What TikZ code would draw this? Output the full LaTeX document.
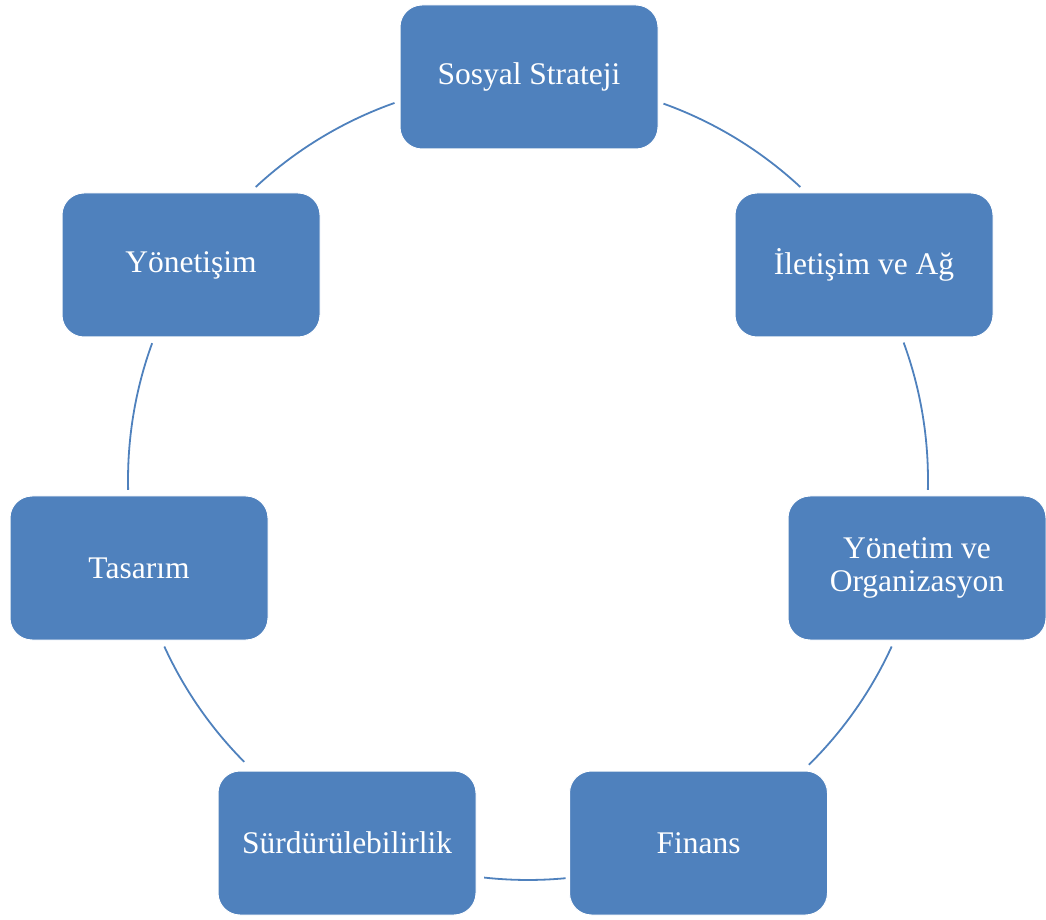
\documentclass[tikz,border=0pt]{standalone}
\usepackage{fontspec}
\setmainfont{Liberation Serif}
\definecolor{boxblue}{HTML}{4F81BD}
\begin{document}
\begin{tikzpicture}[x=1pt,y=1pt,
  cyclebox/.style={rectangle, rounded corners=22pt, fill=boxblue, draw=white, line width=1pt,
    minimum width=258pt, minimum height=144pt, text=white, align=center,
    font=\fontsize{31.5}{33}\selectfont, inner sep=0pt},
  cyclearc/.style={draw=boxblue, line width=1.8pt}]
\useasboundingbox (0,0) rectangle (1046,919);
% centre of the ring
\coordinate (c) at (528,439);
% boxes placed around the ring
\node[cyclebox] (s1) at (529,842) {Sosyal Strateji};
\node[cyclebox] (s2) at (864,654) {İletişim ve Ağ};
\node[cyclebox] (s3) at (917,351) {Yönetim ve\\Organizasyon};
\node[cyclebox] (s4) at (698.5,76) {Finans};
\node[cyclebox] (s5) at (347,76) {Sürdürülebilirlik};
\node[cyclebox] (s6) at (139,351) {Tasarım};
\node[cyclebox] (s7) at (191,654) {Yönetişim};
% connecting arcs of the ring
\draw[cyclearc] ([shift={(70.2:400)}]c) arc[start angle=70.2, end angle=47.1, radius=400];
\draw[cyclearc] ([shift={(20.1:400)}]c) arc[start angle=20.1, end angle=-1.4, radius=400];
\draw[cyclearc] ([shift={(-24.6:400)}]c) arc[start angle=-24.6, end angle=-45.4, radius=400];
\draw[cyclearc] ([shift={(-84.6:400)}]c) arc[start angle=-84.6, end angle=-96.3, radius=400];
\draw[cyclearc] ([shift={(-135.2:400)}]c) arc[start angle=-135.2, end angle=-155.4, radius=400];
\draw[cyclearc] ([shift={(181.4:400)}]c) arc[start angle=181.4, end angle=160.0, radius=400];
\draw[cyclearc] ([shift={(132.9:400)}]c) arc[start angle=132.9, end angle=109.5, radius=400];
\end{tikzpicture}
\end{document}
